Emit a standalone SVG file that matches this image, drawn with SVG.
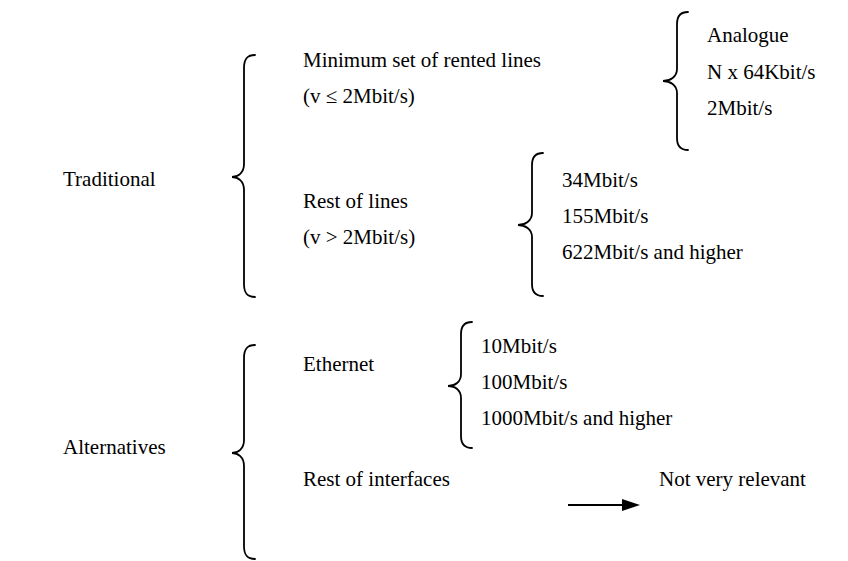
<svg xmlns="http://www.w3.org/2000/svg" width="848" height="561" viewBox="0 0 848 561">
  <style>
    text { font-family: "Liberation Serif", "Times New Roman", Tinos, "DejaVu Serif", serif; font-size: 21px; fill: #000; }
    .brace { fill: none; stroke: #000; stroke-width: 1.8; stroke-linecap: round; }
    .link { fill: none; stroke: #000; stroke-width: 1.8; }
  </style>

  <rect width="848" height="561" fill="#fff"/>

  <!-- Top level: Traditional -->
  <g id="traditional">
    <text x="63" y="186" font-family="Liberation Serif, serif">Traditional</text>
    <path class="brace" d="M255,55 C247,55 244,59 244,68 L244,164 C244,173 238,177 232,177 C238,177 244,181 244,190 L244,284 C244,293 247,297 255,297"/>
  </g>

  <g id="minimum-set">
    <text x="303" y="67">Minimum set of rented lines</text>
    <text x="303" y="103">(v ≤ 2Mbit/s)</text>
    <path class="brace" d="M688,12 C680,12 677,16 677,24 L677,69 C677,77 670,81 663,81 C670,81 677,85 677,93 L677,138 C677,146 680,150 688,150"/>
  </g>

  <g id="low-rates">
    <text x="707" y="42">Analogue</text>
    <text x="707" y="79">N x 64Kbit/s</text>
    <text x="707" y="115">2Mbit/s</text>
  </g>

  <g id="rest-of-lines">
    <text x="303" y="208">Rest of lines</text>
    <text x="303" y="244">(v &gt; 2Mbit/s)</text>
    <path class="brace" d="M543,153 C535,153 532,157 532,165 L532,213 C532,221 525,225 518,225 C525,225 532,229 532,237 L532,284 C532,292 535,296 543,296"/>
  </g>

  <g id="high-rates">
    <text x="562" y="187">34Mbit/s</text>
    <text x="562" y="223">155Mbit/s</text>
    <text x="562" y="259">622Mbit/s and higher</text>
  </g>

  <!-- Top level: Alternatives -->
  <g id="alternatives">
    <text x="63" y="454">Alternatives</text>
    <path class="brace" d="M255,345 C247,345 244,349 244,358 L244,440 C244,449 238,453 232,453 C238,453 244,457 244,466 L244,546 C244,555 247,559 255,559"/>
  </g>

  <g id="ethernet">
    <text x="303" y="371">Ethernet</text>
    <path class="brace" d="M472,322 C464,322 461,326 461,334 L461,374 C461,382 455,386 448,386 C455,386 461,390 461,398 L461,436 C461,444 464,448 472,448"/>
  </g>

  <g id="ethernet-rates">
    <text x="481" y="353">10Mbit/s</text>
    <text x="481" y="389">100Mbit/s</text>
    <text x="481" y="425">1000Mbit/s and higher</text>
  </g>

  <g id="rest-of-interfaces">
    <text x="303" y="486">Rest of interfaces</text>
  </g>

  <g id="not-relevant">
    <text x="659" y="486">Not very relevant</text>
  </g>

  <g id="connectors">
    <line class="link" x1="568" y1="505" x2="622" y2="505"/>
    <path d="M622,499 L640,505 L622,511 Z" fill="#000"/>
  </g>
</svg>
